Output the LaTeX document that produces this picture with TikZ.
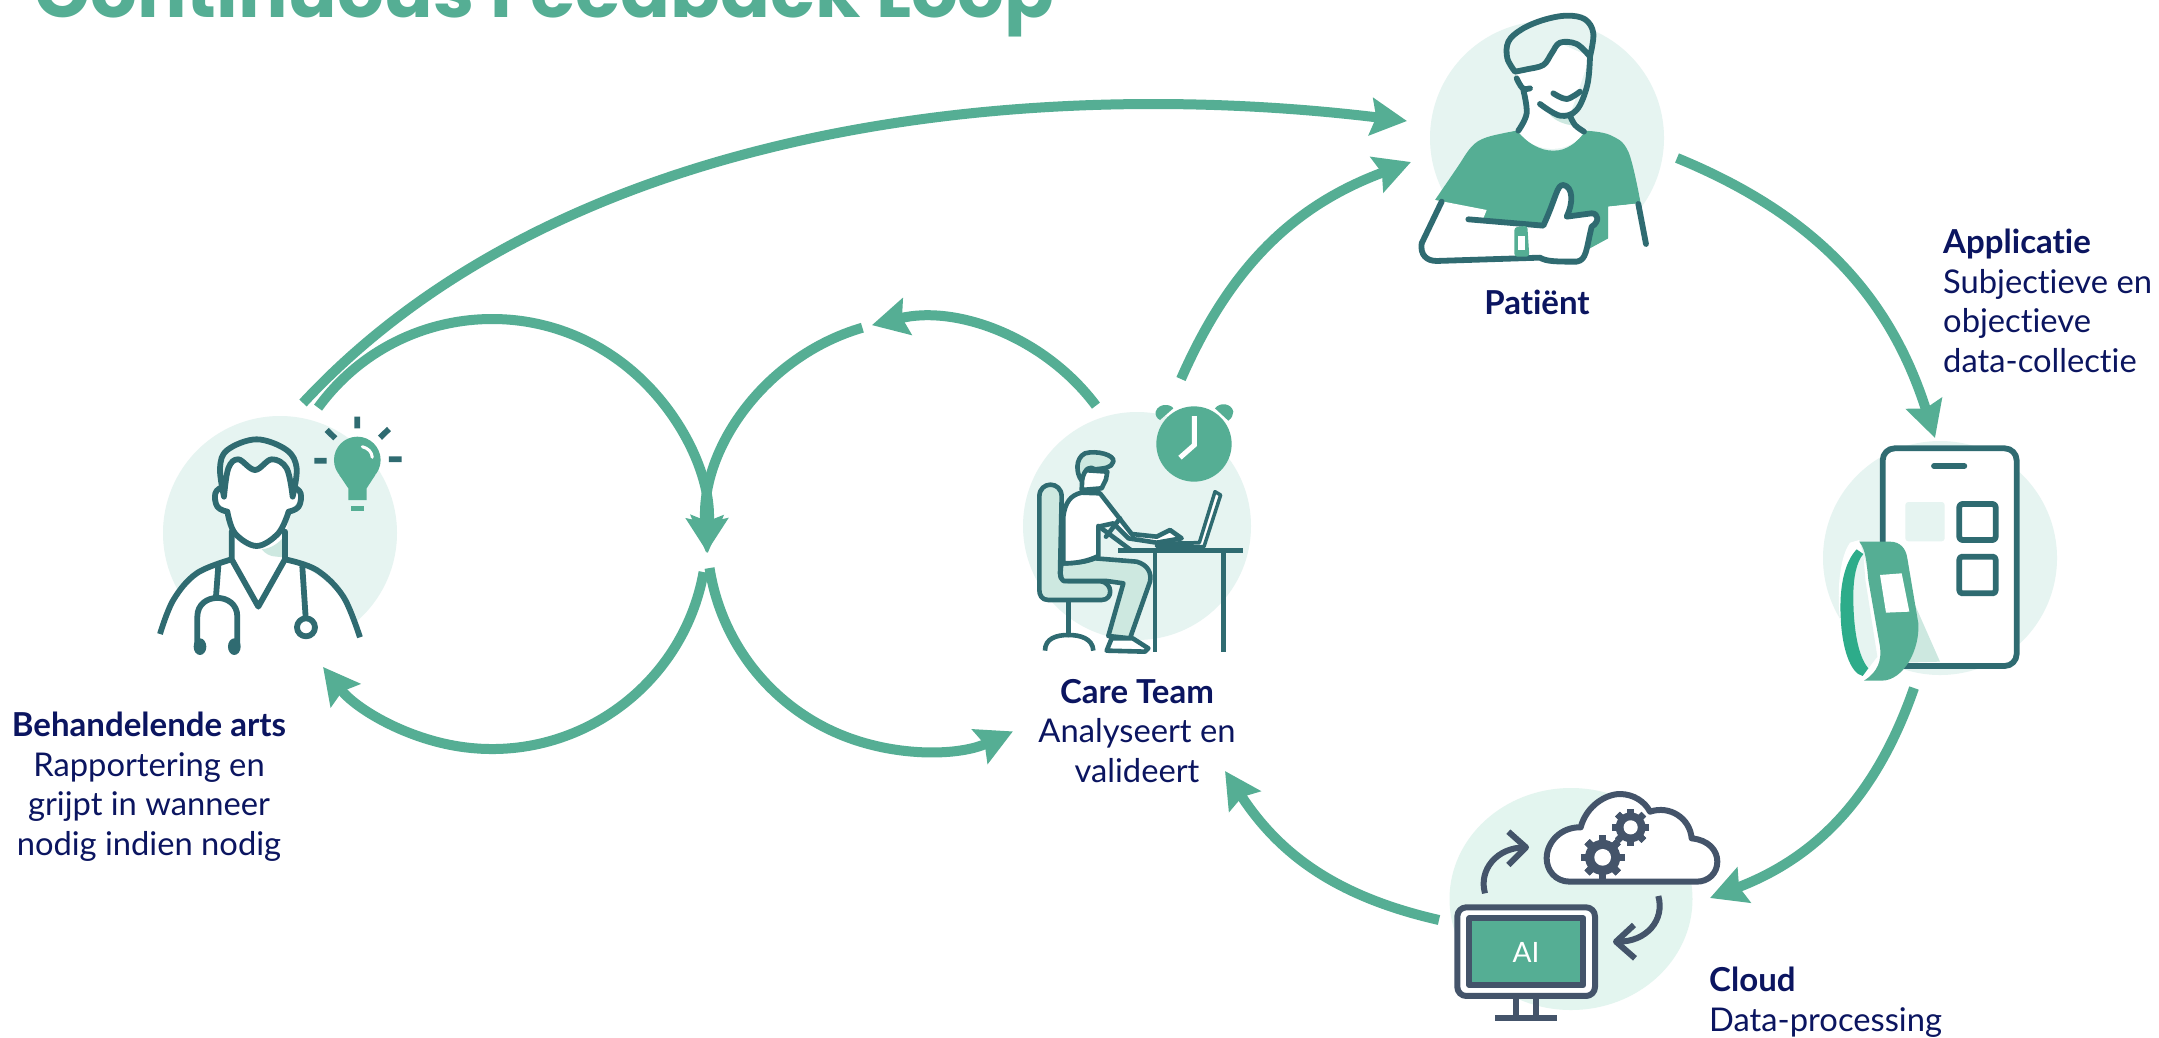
\documentclass[tikz,border=0pt]{standalone}
\usepackage{fontspec}
\setmainfont{Lato}[Ligatures={NoCommon}]
\newfontfamily\titlefont{Poppins}
\usetikzlibrary{arrows.meta,calc,shapes.geometric}
\definecolor{flowgreen}{HTML}{55AE94}
\definecolor{tealdark}{HTML}{2F6B71}
\definecolor{discmint}{HTML}{E6F4F1}
\definecolor{cloudmint}{HTML}{E3F5EF}
\definecolor{shademint}{HTML}{CDE8E0}
\definecolor{bandgreen}{HTML}{2DAC8A}
\definecolor{navytext}{HTML}{0B1560}
\definecolor{slateicon}{HTML}{44546A}
\tikzset{
  flow/.style={draw=flowgreen,line width=10pt,-{Stealth[length=36pt,width=37pt,inset=5pt]}},
  disc/.style={circle,fill=discmint,inner sep=0pt,minimum size=234pt},
  icon/.style={draw=tealdark,line width=5.8pt,line cap=round,line join=round},
  thinicon/.style={icon,line width=4.6pt},
  sicon/.style={draw=slateicon,line width=6pt,line cap=butt,line join=round},
  lab/.style={text=navytext,font=\fontsize{32.7}{39.5}\selectfont,inner sep=0pt,align=center},
  labl/.style={lab,align=left,anchor=north west},
}
\newcommand{\headtxt}[1]{{\bfseries\fontsize{33}{39.5}\selectfont #1}}
\newcommand{\gearshape}[4]{%
  \foreach \a in {0,45,...,315}{\fill[slateicon,rotate around={\a:(#1,#2)}] (#1-#4,#2-#3) rectangle (#1+#4,#2+#3);}
  \fill[slateicon] (#1,#2) circle[radius=#3*0.8];
  \fill[white] (#1,#2) circle[radius=#3*0.38];}
\begin{document}
\begin{tikzpicture}[x=1pt,y=-1pt]
\clip (0,0) rectangle (2159,1037);
\fill[white] (0,0) rectangle (2159,1037);
% discs
\node[disc] (patient) at (1547,138) {};
\node[disc] (doctor) at (280,533) {};
\node[disc,minimum size=228pt] (care) at (1137,526) {};
\node[disc] (app) at (1940,558) {};
\node[ellipse,fill=cloudmint,inner sep=0pt,minimum width=243pt,minimum height=222pt] (cloud) at (1571,899) {};
% title
\node[anchor=base west,inner sep=0pt,text=flowgreen,font=\titlefont\bfseries\fontsize{73.5}{80}\selectfont] (title) at (34,17) {Continuous Feedback Loop};
% connector anchors
\coordinate (lc) at (492,534);
\coordinate (rc) at (923,535);
\coordinate (bigstart) at (303,403);
\coordinate (bigend) at (1407,121);
\coordinate (l1) at ($(lc)+(216:215)$);
\coordinate (l2) at ($(lc)+(10.2:215)$);
\coordinate (r1) at ($(rc)+(323.2:216)$);
\coordinate (r2) at ($(rc)+(253.7:216)$);
\coordinate (r3) at ($(rc)+(171.2:216)$);
\coordinate (c1) at (1181,379);
\coordinate (c2) at (1411,162);
\coordinate (p1) at (1677,158);
\coordinate (p2) at (1935,438);
\coordinate (a1) at (1914,688);
\coordinate (a2) at (1710,898);
\coordinate (u1) at (1439,920);
\coordinate (u2) at (1225,771);
% connectors
\draw[flow] (bigstart) .. controls (563,123) and (1027,75) .. (bigend);
\draw[flow] (l1) arc[start angle=216,end angle=365,radius=215];
\draw[flow] (l2) arc[start angle=10.2,end angle=141.8,radius=215];
\draw[flow] (r1) arc[start angle=323.2,end angle=256.3,radius=216];
\draw[flow] (r2) arc[start angle=253.7,end angle=175.2,radius=216];
\draw[flow] (r3) arc[start angle=171.2,end angle=65.4,radius=216];
\draw[flow] (c1) to[bend left=23] (c2);
\draw[flow] (p1) to[bend left=25] (p2);
\draw[flow] (a1) to[bend left=25] (a2);
\draw[flow] (u1) to[bend left=22] (u2);

% ---------- patient
\begin{scope}[shift={(1380,0)},x=0.3333pt,y=-0.3333pt]
 \fill[flowgreen] (165,600) -- plot[smooth,tension=.6] coordinates {(165,600) (230,505) (275,440) (320,412) (410,392)} -- plot[smooth,tension=.7] coordinates {(410,392) (460,435) (520,452) (575,435) (615,392)} -- plot[smooth,tension=.6] coordinates {(615,392) (690,405) (745,455) (782,610)} -- (685,620) -- (685,715) -- (630,745) -- (500,760) -- (200,700) -- cycle;
 \fill[white] (685,620) -- (778,610) -- (798,730) -- (685,730) -- cycle;
 % neck + face
 \fill[white] (405,215) -- (440,340) -- (415,392) .. controls (460,465) and (575,465) .. (615,392) -- (570,345) -- (630,170) -- (540,130) -- cycle;
 \fill[shademint] (510,345) -- (570,350) -- (585,378) .. controls (550,372) and (530,365) .. (510,345) -- cycle;
 % hair
 \filldraw[icon,fill=discmint] plot[smooth,tension=.6] coordinates {(405,215) (382,175) (385,125) (425,88) (490,60) (560,47) (615,58) (640,100) (630,170)} -- plot[smooth,tension=.6] coordinates {(630,170) (590,132) (540,128) (515,160) (490,195) (440,208) (405,215)} -- cycle;
 \draw[icon] plot[smooth,tension=.6] coordinates {(630,170) (622,255) (590,330) (540,347) (480,312)};
 \draw[icon] plot[smooth,tension=.6] coordinates {(410,235) (428,265) (450,265)};
 \draw[icon] plot[smooth,tension=.6] coordinates {(430,270) (440,340) (415,392)};
 \draw[icon] plot[smooth,tension=.6] coordinates {(570,347) (585,375) (612,395)};
 \draw[icon] plot[smooth,tension=.6] coordinates {(520,280) (560,297) (600,275)};
 % arm: fill, then outline
 \fill[white] (165,600) -- (320,630) -- (310,655) -- (265,658) -- (490,677) .. controls (530,590) and (530,555) .. (550,555) .. controls (580,560) and (580,610) .. (560,650) -- (635,640) .. controls (655,640) and (660,665) .. (635,680) .. controls (618,750) and (620,780) .. (590,785) .. controls (530,785) and (500,785) .. (480,773) -- (170,783) .. controls (140,783) and (120,765) .. (125,730) -- cycle;
 \draw[icon] (185,605) -- (125,730) .. controls (120,765) and (140,783) .. (170,783) -- (480,773) .. controls (500,785) and (530,785) .. (590,785) .. controls (620,780) and (618,750) .. (635,680) .. controls (660,665) and (655,640) .. (635,640) -- (560,650) .. controls (580,610) and (580,560) .. (550,555) .. controls (530,555) and (530,590) .. (490,677) -- (265,658);
 \draw[icon] (775,612) -- (798,732);
 \fill[flowgreen,rounded corners=3pt] (403,682) -- (442,677) -- (448,770) -- (403,770) -- cycle;
 \fill[white] (414,707) rectangle (436,750);
\end{scope}

% ---------- doctor
\begin{scope}[shift={(140,400)},x=0.3333pt,y=-0.3333pt]
 \fill[white] (60,700) .. controls (90,590) and (170,510) .. (275,478) -- (275,390) -- (240,320) -- (225,290) -- (260,180) -- (350,170) -- (450,180) -- (485,290) -- (445,340) -- (435,478) .. controls (540,510) and (630,590) .. (660,710) -- (660,780) -- (60,780) -- cycle;
 \fill[shademint] (365,448) .. controls (395,445) and (415,430) .. (432,410) -- (432,472) -- (410,470) .. controls (390,470) and (375,460) .. (365,448) -- cycle;
 \filldraw[icon,fill=discmint] plot[smooth,tension=.6] coordinates {(252,290) (240,205) (262,150) (350,118) (440,150) (470,205) (458,290)} -- plot[smooth,tension=.6] coordinates {(458,290) (440,205) (395,178) (345,210) (295,178) (265,205) (252,290)} -- cycle;
 \draw[icon] plot[smooth,tension=.7] coordinates {(245,262) (226,280) (232,320) (262,335)};
 \draw[icon] plot[smooth,tension=.7] coordinates {(462,262) (482,280) (476,320) (446,335)};
 \draw[icon] plot[smooth,tension=.6] coordinates {(262,335) (285,400) (350,438) (415,400) (446,335)};
 \draw[icon] (275,395) -- (275,478) -- (355,620) -- (435,478) -- (435,395);
 \draw[icon,line cap=butt] plot[smooth,tension=.6] coordinates {(60,702) (100,600) (170,520) (275,478)};
 \draw[icon,line cap=butt] plot[smooth,tension=.6] coordinates {(435,478) (530,510) (610,590) (660,712)};
 \draw[icon] (235,497) -- (228,590);
 \draw[icon] (172,735) -- (172,650) .. controls (172,575) and (292,575) .. (292,650) -- (292,735);
 \fill[tealdark] (180,740) ellipse[x radius=19,y radius=25] (283,740) ellipse[x radius=19,y radius=25];
 \draw[icon] (487,500) -- (497,652);
 \draw[icon,fill=white] (498,682) circle[radius=27];
 \fill[flowgreen] (652,180) circle[radius=70];
 \fill[flowgreen] (598,225) -- (706,225) -- (680,265) -- (680,300) -- (625,300) -- (625,265) -- cycle;
 \fill[flowgreen] (632,318) rectangle (672,333);
 \draw[white,line width=3pt,line cap=round] (667,140) .. controls (685,145) and (695,155) .. (697,172);
 \draw[icon,line cap=butt] (652,50) -- (652,85) (560,90) -- (586,115) (747,87) -- (720,113) (523,182) -- (560,182) (747,178) -- (785,178);
\end{scope}

% ---------- care team
\begin{scope}[shift={(1000,390)},x=0.3333pt,y=-0.3333pt]
 % clock
 \fill[flowgreen] (467,65) .. controls (475,40) and (510,40) .. (520,55) -- (480,90) .. controls (470,85) and (465,75) .. (467,65) -- cycle;
 \fill[flowgreen] (700,65) .. controls (695,40) and (660,35) .. (645,55) -- (685,92) .. controls (695,85) and (700,75) .. (700,65) -- cycle;
 \fill[flowgreen] (582,162) circle[radius=113];
 \draw[white,line width=5pt,line join=miter] (583,78) -- (583,165) -- (540,203);
 % desk
 \draw[thinicon,line cap=butt] (355,482) -- (730,482);
 \draw[thinicon,line cap=butt] (465,482) -- (465,787);
 \draw[thinicon,line cap=butt] (670,482) -- (670,787);
 % chair
 \draw[thinicon] (205,630) -- (205,735);
 \draw[thinicon,line cap=butt] (135,782) .. controls (135,745) and (170,735) .. (205,735) .. controls (240,735) and (278,745) .. (280,782);
 \filldraw[thinicon,fill=shademint] (118,600) -- (118,320) .. controls (118,272) and (185,272) .. (185,320) -- (180,550) .. controls (180,570) and (190,573) .. (205,573) -- (300,573) .. controls (340,578) and (340,630) .. (305,630) -- (145,630) .. controls (125,630) and (118,615) .. (118,600) -- cycle;
 % legs
 \filldraw[thinicon,fill=shademint] (185,520) .. controls (230,520) and (260,515) .. (285,505) -- (410,515) .. controls (445,525) and (455,550) .. (450,575) -- (390,745) -- (325,738) -- (370,580) -- (320,573) -- (190,573) .. controls (180,565) and (180,540) .. (185,520) -- cycle;
 % torso
 \filldraw[thinicon,fill=white] (190,520) -- (190,380) .. controls (195,340) and (210,315) .. (245,308) -- (300,310) -- (395,432) -- (470,440) -- (510,420) -- (545,445) -- (470,458) -- (385,445) -- (340,400) -- (295,410) -- (295,498) .. controls (260,515) and (225,520) .. (190,520) -- cycle;
 \draw[thinicon] (318,440) -- (360,385);
 \draw[thinicon] (295,408) -- (395,482);
 % head
 \filldraw[thinicon,fill=white] (245,300) -- (248,240) -- (322,245) -- (318,268) -- (305,295) -- cycle;
 \filldraw[thinicon,fill=shademint] (245,272) .. controls (228,250) and (225,205) .. (255,190) .. controls (290,180) and (345,195) .. (340,215) .. controls (335,235) and (310,235) .. (285,238) .. controls (270,228) and (255,232) .. (245,272) -- cycle;
 % laptop
 \filldraw[thinicon,line width=3.5pt,fill=white] (470,460) -- (598,458) -- (645,305) -- (662,315) -- (612,470) -- (470,470) -- cycle;
 % foot
 \filldraw[thinicon,fill=white] (320,782) -- (335,745) -- (398,745) -- (445,775) -- (435,785) -- cycle;
\end{scope}

% ---------- phone + band
\begin{scope}[shift={(1800,430)},x=0.3333pt,y=-0.3333pt]
 \draw[icon,fill=white,rounded corners=12pt] (248,55) rectangle (650,708);
 \draw[icon] (402,108) -- (493,108);
 \fill[discmint,rounded corners=3pt] (316,216) rectangle (434,334);
 \draw[icon,rounded corners=3pt] (478,222) rectangle (587,330);
 \draw[icon,rounded corners=3pt] (478,380) rectangle (587,490);
 \fill[shademint] (345,525) -- (420,695) -- (310,698) -- cycle;
 \fill[white] (178,330) -- (150,338) .. controls (105,400) and (100,600) .. (165,745) -- (192,755) -- (250,700) -- (210,450) -- cycle;
 \fill[discmint] (190,372) .. controls (170,395) and (160,440) .. (160,500) .. controls (160,600) and (175,680) .. (205,715) -- (232,680) -- (196,450) -- cycle;
 \fill[flowgreen] (178,335) -- (270,335) .. controls (300,335) and (318,355) .. (322,385) -- (355,580) .. controls (360,660) and (310,752) .. (245,752) -- (192,752) .. controls (235,725) and (245,690) .. (240,650) -- (205,450) .. controls (200,400) and (198,360) .. (178,335) -- cycle;
 \fill[white] (240,435) -- (305,430) -- (328,545) -- (258,548) -- cycle;
 \fill[bandgreen] (170,358) .. controls (130,400) and (118,480) .. (122,560) .. controls (125,650) and (150,730) .. (188,738) -- (205,715) .. controls (175,680) and (160,600) .. (160,500) .. controls (160,440) and (170,395) .. (190,372) -- cycle;
\end{scope}

% ---------- cloud + monitor
\begin{scope}[shift={(1430,770)},x=0.3333pt,y=-0.3333pt]
 \draw[sicon,fill=white] (420,335) .. controls (375,335) and (350,300) .. (350,265) .. controls (350,215) and (395,170) .. (452,172) .. controls (470,105) and (530,72) .. (570,72) .. controls (610,72) and (645,95) .. (660,125) .. controls (720,105) and (780,145) .. (785,205) .. controls (835,210) and (862,240) .. (862,275) .. controls (862,310) and (835,335) .. (800,335) -- cycle;
 \gearshape{518}{262}{66}{11}
 \gearshape{602}{172}{56}{10}
 \draw[sicon] (165,370) .. controls (145,300) and (200,232) .. (285,232);
 \draw[sicon] (235,185) -- (288,232) -- (235,285);
 \draw[sicon] (685,378) .. controls (705,450) and (650,515) .. (565,515);
 \draw[sicon] (612,465) -- (558,515) -- (615,565);
 \draw[sicon,fill=white,rounded corners=9pt] (82,412) rectangle (495,678);
 \draw[sicon,fill=flowgreen] (118,445) rectangle (460,645);
 \node[text=white,font=\fontsize{28}{30}\selectfont,inner sep=0pt] (ailabel) at (288,548) {AI};
 \draw[sicon] (258,680) -- (258,745);
 \draw[sicon] (318,680) -- (318,745);
 \draw[sicon] (195,745) -- (382,745);
\end{scope}

% ---------- labels
\node[lab] (tpatient) at (1537,302) {\headtxt{Patiënt}};
\node[labl] (tapp) at (1943,229) {\headtxt{Applicatie}\\Subjectieve en\\objectieve\\data-collectie};
\node[lab,anchor=north] (tcare) at (1137,679) {\headtxt{Care Team}\\Analyseert en\\valideert};
\node[lab,anchor=north] (tdoctor) at (149,712) {\headtxt{Behandelende arts}\\Rapportering en\\grijpt in wanneer\\nodig indien nodig};
\node[labl] (tcloud) at (1709,967) {\headtxt{Cloud}\\Data-processing};
\end{tikzpicture}
\end{document}
